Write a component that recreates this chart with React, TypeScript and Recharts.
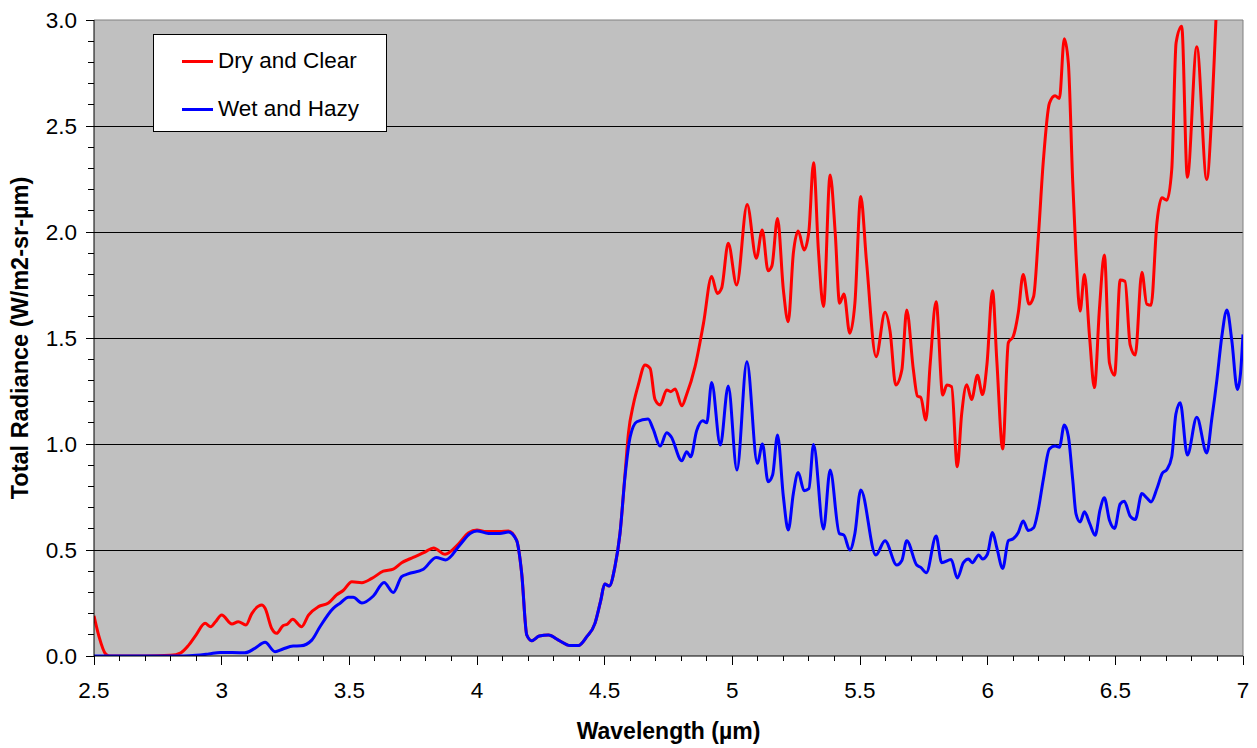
import { LineChart, Line, XAxis, YAxis, CartesianGrid, ReferenceLine, Legend, Label } from "recharts";

// wavelength (µm), total radiance (W/m2-sr-µm)
const dryAndClear: [number, number][] = [
  [2.5, 0.19], [2.52, 0.09], [2.545, 0.01], [2.56, 0.0], [2.7, 0.0], [2.8, 0.003], [2.84, 0.015],
  [2.87, 0.05], [2.9, 0.1], [2.935, 0.154], [2.957, 0.138], [2.975, 0.16], [3.0, 0.193], [3.04, 0.151],
  [3.065, 0.162], [3.095, 0.146], [3.118, 0.2], [3.157, 0.24], [3.17, 0.225], [3.196, 0.13], [3.215, 0.107],
  [3.24, 0.143], [3.257, 0.15], [3.278, 0.173], [3.313, 0.138], [3.34, 0.193], [3.379, 0.233], [3.418, 0.25],
  [3.45, 0.288], [3.477, 0.31], [3.51, 0.35], [3.549, 0.346], [3.588, 0.366], [3.633, 0.4], [3.672, 0.41],
  [3.705, 0.44], [3.75, 0.465], [3.796, 0.49], [3.83, 0.51], [3.875, 0.48], [3.927, 0.528], [3.966, 0.58],
  [4.0, 0.594], [4.03, 0.587], [4.09, 0.587], [4.123, 0.59], [4.155, 0.547], [4.175, 0.39], [4.195, 0.099],
  [4.214, 0.072], [4.244, 0.094], [4.28, 0.099], [4.319, 0.075], [4.365, 0.049], [4.397, 0.049], [4.43, 0.091],
  [4.462, 0.154], [4.485, 0.264], [4.5, 0.34], [4.518, 0.33], [4.54, 0.42], [4.56, 0.578], [4.58, 0.862],
  [4.593, 1.05], [4.613, 1.19], [4.632, 1.28], [4.658, 1.373], [4.678, 1.357], [4.697, 1.21], [4.717, 1.184],
  [4.743, 1.255], [4.759, 1.247], [4.776, 1.26], [4.802, 1.18], [4.82, 1.23], [4.854, 1.365], [4.887, 1.569],
  [4.919, 1.79], [4.941, 1.71], [4.958, 1.735], [4.984, 1.947], [5.017, 1.75], [5.058, 2.13], [5.094, 1.876],
  [5.117, 2.01], [5.14, 1.817], [5.155, 1.84], [5.177, 2.064], [5.2, 1.726], [5.219, 1.577], [5.239, 1.9],
  [5.258, 2.005], [5.281, 1.915], [5.3, 2.005], [5.318, 2.327], [5.337, 1.915], [5.357, 1.648], [5.383, 2.269],
  [5.403, 1.995], [5.42, 1.664], [5.437, 1.708], [5.46, 1.522], [5.48, 1.664], [5.503, 2.167], [5.525, 1.868],
  [5.563, 1.412], [5.598, 1.621], [5.618, 1.53], [5.64, 1.278], [5.664, 1.35], [5.683, 1.632], [5.709, 1.35],
  [5.725, 1.226], [5.738, 1.22], [5.758, 1.113], [5.775, 1.38], [5.798, 1.671], [5.824, 1.231], [5.84, 1.278],
  [5.859, 1.27], [5.881, 0.893], [5.898, 1.14], [5.918, 1.28], [5.937, 1.21], [5.96, 1.324], [5.98, 1.233],
  [5.997, 1.373], [6.019, 1.723], [6.036, 1.39], [6.059, 0.977], [6.081, 1.478], [6.1, 1.507], [6.12, 1.62],
  [6.139, 1.8], [6.162, 1.66], [6.18, 1.696], [6.198, 1.969], [6.218, 2.335], [6.242, 2.608], [6.264, 2.643],
  [6.281, 2.63], [6.3, 2.912], [6.316, 2.797], [6.333, 2.239], [6.346, 1.892], [6.362, 1.627], [6.379, 1.8],
  [6.399, 1.507], [6.418, 1.266], [6.438, 1.642], [6.457, 1.892], [6.477, 1.382], [6.497, 1.324], [6.519, 1.773],
  [6.538, 1.767], [6.558, 1.468], [6.578, 1.42], [6.604, 1.81], [6.623, 1.66], [6.64, 1.655], [6.663, 2.046],
  [6.682, 2.161], [6.702, 2.15], [6.721, 2.296], [6.738, 2.893], [6.76, 2.97], [6.782, 2.258], [6.819, 2.874],
  [6.858, 2.248], [6.878, 2.566], [6.894, 3.0], [6.91, 3.4],
];

const wetAndHazy: [number, number][] = [
  [2.5, 0.0], [2.85, 0.0], [2.9, 0.003], [2.95, 0.01], [2.994, 0.017], [3.09, 0.015], [3.13, 0.036],
  [3.17, 0.065], [3.209, 0.02], [3.24, 0.033], [3.28, 0.047], [3.31, 0.048], [3.353, 0.075], [3.385, 0.138],
  [3.437, 0.225], [3.465, 0.25], [3.496, 0.277], [3.515, 0.277], [3.549, 0.25], [3.594, 0.283], [3.636, 0.347],
  [3.672, 0.3], [3.705, 0.374], [3.73, 0.387], [3.79, 0.409], [3.84, 0.465], [3.877, 0.453], [3.933, 0.524],
  [3.973, 0.578], [4.0, 0.59], [4.045, 0.578], [4.09, 0.578], [4.123, 0.585], [4.155, 0.545], [4.175, 0.39],
  [4.195, 0.099], [4.214, 0.072], [4.244, 0.094], [4.28, 0.099], [4.319, 0.075], [4.365, 0.049], [4.397, 0.049],
  [4.43, 0.091], [4.462, 0.154], [4.485, 0.264], [4.5, 0.34], [4.518, 0.33], [4.54, 0.42], [4.56, 0.578],
  [4.58, 0.85], [4.6, 1.034], [4.626, 1.105], [4.67, 1.118], [4.69, 1.07], [4.717, 0.99], [4.743, 1.053],
  [4.76, 1.035], [4.802, 0.921], [4.821, 0.964], [4.837, 0.94], [4.86, 1.062], [4.884, 1.11], [4.9, 1.1],
  [4.919, 1.29], [4.953, 0.995], [4.984, 1.274], [5.018, 0.877], [5.057, 1.388], [5.098, 0.909], [5.118, 1.0],
  [5.14, 0.822], [5.158, 0.855], [5.177, 1.042], [5.2, 0.75], [5.219, 0.594], [5.239, 0.767], [5.258, 0.865],
  [5.281, 0.78], [5.3, 0.79], [5.318, 0.998], [5.357, 0.599], [5.383, 0.877], [5.419, 0.578], [5.437, 0.57],
  [5.46, 0.5], [5.48, 0.578], [5.503, 0.783], [5.562, 0.476], [5.598, 0.544], [5.644, 0.429], [5.664, 0.45],
  [5.683, 0.544], [5.722, 0.429], [5.738, 0.418], [5.76, 0.393], [5.798, 0.566], [5.82, 0.44], [5.857, 0.455],
  [5.881, 0.368], [5.905, 0.44], [5.925, 0.457], [5.94, 0.44], [5.965, 0.477], [5.98, 0.457], [5.999, 0.48],
  [6.019, 0.583], [6.036, 0.51], [6.059, 0.413], [6.081, 0.544], [6.1, 0.553], [6.12, 0.583], [6.139, 0.637],
  [6.159, 0.592], [6.18, 0.605], [6.198, 0.689], [6.218, 0.833], [6.242, 0.977], [6.264, 0.99], [6.281, 0.985],
  [6.3, 1.09], [6.316, 1.036], [6.333, 0.833], [6.346, 0.67], [6.362, 0.632], [6.379, 0.68], [6.399, 0.627],
  [6.421, 0.569], [6.44, 0.689], [6.457, 0.746], [6.477, 0.64], [6.497, 0.602], [6.519, 0.717], [6.535, 0.73],
  [6.558, 0.66], [6.578, 0.644], [6.604, 0.766], [6.623, 0.746], [6.64, 0.727], [6.663, 0.79], [6.684, 0.862],
  [6.702, 0.88], [6.721, 0.94], [6.737, 1.14], [6.754, 1.195], [6.782, 0.948], [6.819, 1.126], [6.858, 0.958],
  [6.878, 1.12], [6.898, 1.305], [6.917, 1.507], [6.937, 1.632], [6.956, 1.49], [6.978, 1.257], [6.99, 1.33],
  [7.0, 1.517],
];

const xMajor = [2.5, 3, 3.5, 4, 4.5, 5, 5.5, 6, 6.5, 7];
const yMajor = [0, 0.5, 1, 1.5, 2, 2.5, 3];
const gridValues = [0.5, 1, 1.5, 2, 2.5];

const xTicks = Array.from({ length: 46 }, (_, i) => Math.round(25 + i) / 10);
const yTicks = Array.from({ length: 31 }, (_, i) => i / 10);

const FONT = "'Liberation Sans', Arial, sans-serif";
const isMajor = (list: number[], v: number) => list.some((m) => Math.abs(m - v) < 1e-6);

const XTick = (props: any) => {
  const { x, y, payload } = props;
  const major = isMajor(xMajor, payload.value);
  return (
    <g>
      <line x1={x} y1={y} x2={x} y2={y + (major ? 9 : 5)} stroke="#000" strokeWidth={1} shapeRendering="crispEdges" />
      {major && (
        <text x={x} y={y + 34} textAnchor="middle" dominantBaseline="central" fontFamily={FONT} fontSize={22.5} fill="#000">
          {String(payload.value)}
        </text>
      )}
    </g>
  );
};

const YTick = (props: any) => {
  const { x, y, payload } = props;
  const major = isMajor(yMajor, payload.value);
  return (
    <g>
      <line x1={x - (major ? 8 : 6)} y1={y} x2={x} y2={y} stroke="#000" strokeWidth={1} shapeRendering="crispEdges" />
      {major && (
        <text x={x - 17} y={y} textAnchor="end" dominantBaseline="central" fontFamily={FONT} fontSize={22.5} fill="#000">
          {payload.value.toFixed(1)}
        </text>
      )}
    </g>
  );
};

const renderLegend = (props: any) => {
  const items = props.payload || [];
  return (
    <div
      style={{
        width: 234,
        height: 98,
        boxSizing: "border-box",
        border: "1px solid #000",
        background: "#fff",
        position: "relative",
        fontFamily: FONT,
        fontSize: 22.5,
        color: "#000",
      }}
    >
      {items.map((item: any, i: number) => (
        <div
          key={item.value}
          style={{ position: "absolute", left: 28, top: 12 + i * 48, height: 28, display: "flex", alignItems: "center" }}
        >
          <span style={{ display: "inline-block", width: 31, height: 3, background: item.color, marginRight: 5 }} />
          <span style={{ lineHeight: "28px" }}>{item.value}</span>
        </div>
      ))}
    </div>
  );
};

export default function App() {
  return (
    <div style={{ position: "absolute", left: 0, top: 0, width: 1257, height: 748, background: "#fff" }}>
      <LineChart width={1257} height={748} margin={{ top: 20, right: 14, left: 0, bottom: 0 }}>
        <CartesianGrid
          horizontalValues={gridValues}
          vertical={false}
          stroke="#000"
          strokeWidth={1}
          shapeRendering="crispEdges"
          fill="#C0C0C0"
          fillOpacity={1}
        />
        <XAxis
          type="number"
          dataKey="x"
          domain={[2.5, 7]}
          ticks={xTicks}
          interval={0}
          allowDataOverflow
          height={92}
          tickSize={0}
          tickMargin={0}
          tickLine={false}
          axisLine={{ stroke: "#000", strokeWidth: 1 }}
          tick={<XTick />}
        >
          <Label
            content={({ viewBox }: any) => (
              <text
                x={viewBox.x + viewBox.width / 2}
                y={viewBox.y + viewBox.height - 17}
                textAnchor="middle"
                dominantBaseline="central"
                fontFamily={FONT}
                fontSize={23}
                fontWeight="bold"
                fill="#000"
              >
                Wavelength (µm)
              </text>
            )}
          />
        </XAxis>
        <YAxis
          type="number"
          domain={[0, 3]}
          ticks={yTicks}
          interval={0}
          allowDataOverflow
          width={94}
          tickSize={0}
          tickMargin={0}
          tickLine={false}
          axisLine={{ stroke: "#000", strokeWidth: 1 }}
          tick={<YTick />}
        >
          <Label
            content={({ viewBox }: any) => {
              const cx = viewBox.x + 20;
              const cy = viewBox.y + viewBox.height / 2;
              return (
                <text
                  x={cx}
                  y={cy}
                  transform={`rotate(-90, ${cx}, ${cy})`}
                  textAnchor="middle"
                  dominantBaseline="central"
                  fontFamily={FONT}
                  fontSize={23.5}
                  fontWeight="bold"
                  fill="#000"
                >
                  Total Radiance (W/m2-sr-µm)
                </text>
              );
            }}
          />
        </YAxis>
        <ReferenceLine y={3} stroke="#808080" strokeWidth={1} />
        <ReferenceLine x={7} stroke="#808080" strokeWidth={1} />
        <Legend
          layout="horizontal"
          verticalAlign="middle"
          align="center"
          wrapperStyle={{ left: 153, top: 34, width: 234, height: 98 }}
          content={renderLegend}
        />
        <Line
          name="Dry and Clear"
          data={dryAndClear.map(([x, y]) => ({ x, y }))}
          dataKey="y"
          type="monotone"
          stroke="#FF0000"
          strokeWidth={3}
          dot={false}
          activeDot={false}
          isAnimationActive={false}
        />
        <Line
          name="Wet and Hazy"
          data={wetAndHazy.map(([x, y]) => ({ x, y }))}
          dataKey="y"
          type="monotone"
          stroke="#0000FF"
          strokeWidth={3}
          dot={false}
          activeDot={false}
          isAnimationActive={false}
        />
      </LineChart>
    </div>
  );
}
